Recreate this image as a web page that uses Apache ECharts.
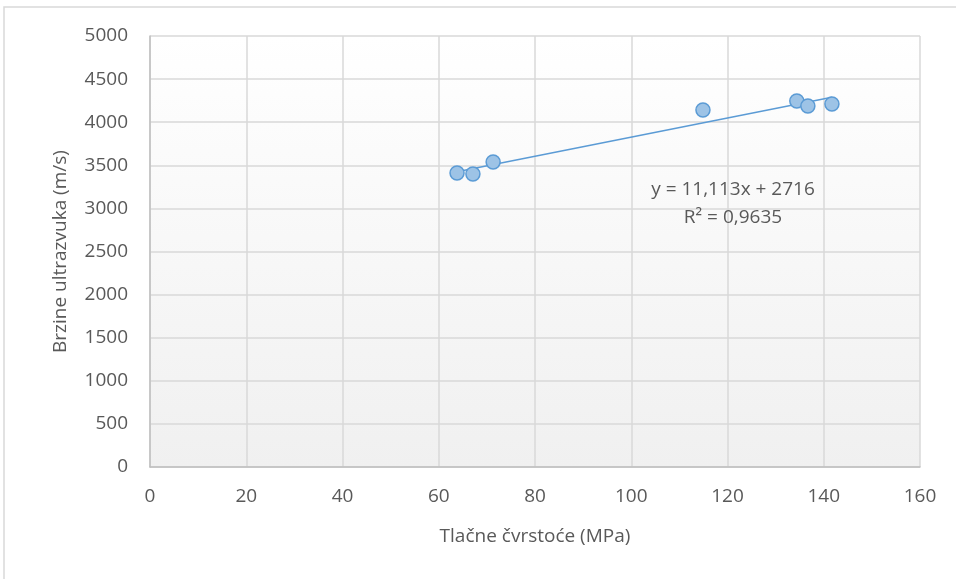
<!DOCTYPE html>
<html><head><meta charset="utf-8">
<script src="https://cdn.jsdelivr.net/npm/echarts@6/dist/echarts.min.js"></script>
<style>html,body{margin:0;padding:0;background:#fff}#c{width:956px;height:579px}</style>
</head><body><div id="c"></div>
<script>
const strength = [63.8, 67.1, 71.3, 114.9, 134.4, 136.7, 141.7];
const velocity = [3411, 3399, 3538, 4142, 4246, 4188, 4211];
const trendSlope = 11.113;
const trendIntercept = 2716;
const eqLabel = 'y = 11,113x + 2716';
const r2Label = 'R² = 0,9635';
const xTitle = 'Tlačne čvrstoće (MPa)';
const yTitle = 'Brzine ultrazvuka (m/s)';

const pts = strength.map((x, i) => [x, velocity[i]]);
const xmin = Math.min(...strength), xmax = Math.max(...strength);
const trend = [[xmin, trendSlope * xmin + trendIntercept], [xmax, trendSlope * xmax + trendIntercept]];

const font = '"Open Sans", "Liberation Sans", sans-serif';
const fs = 19;
const chart = echarts.init(document.getElementById('c'));
chart.setOption({
  animation: false,
  graphic: [
    {type: 'rect', shape: {x: 4, y: 7, width: 1000, height: 700}, style: {fill: 'none', stroke: '#d9d9d9', lineWidth: 1.5}, z: -10},
    {type: 'text', x: 733, y: 190, style: {text: eqLabel, fill: '#595959', font: fs + 'px ' + font, align: 'center', verticalAlign: 'middle'}, z: 10},
    {type: 'text', x: 733, y: 218, style: {text: r2Label, fill: '#595959', font: fs + 'px ' + font, align: 'center', verticalAlign: 'middle'}, z: 10}
  ],
  grid: {left: 150, right: 36, top: 36, bottom: 112, show: true, borderWidth: 0,
    backgroundColor: {type: 'linear', x: 0, y: 0, x2: 0, y2: 1, colorStops: [{offset: 0, color: '#ffffff'}, {offset: 1, color: '#f0f0f0'}]}},
  xAxis: {type: 'value', min: 0, max: 160, interval: 20,
    name: xTitle, nameLocation: 'middle', nameGap: 60,
    nameTextStyle: {color: '#595959', fontSize: fs, fontFamily: font},
    axisLine: {show: true, lineStyle: {color: '#bfbfbf', width: 1.5}},
    axisTick: {show: false},
    axisLabel: {color: '#595959', fontSize: fs, fontFamily: font, margin: 20},
    splitLine: {show: true, lineStyle: {color: '#d9d9d9', width: 1.5}}},
  yAxis: {type: 'value', min: 0, max: 5000, interval: 500,
    name: yTitle, nameLocation: 'middle', nameGap: 80,
    nameTextStyle: {color: '#595959', fontSize: fs, fontFamily: font},
    axisLine: {show: true, lineStyle: {color: '#bfbfbf', width: 1.5}},
    axisTick: {show: false},
    axisLabel: {color: '#595959', fontSize: fs, fontFamily: font, margin: 22, formatter: v => String(v)},
    splitLine: {show: true, lineStyle: {color: '#d9d9d9', width: 1.5}}},
  series: [
    {type: 'line', data: trend, symbol: 'none', lineStyle: {color: '#5b9bd5', width: 1.5}, z: 2, silent: true},
    {type: 'scatter', data: pts, symbolSize: 14,
      itemStyle: {color: '#9dc3e6', borderColor: '#5b9bd5', borderWidth: 1.5, opacity: 1}, z: 3}
  ]
});
</script></body></html>
